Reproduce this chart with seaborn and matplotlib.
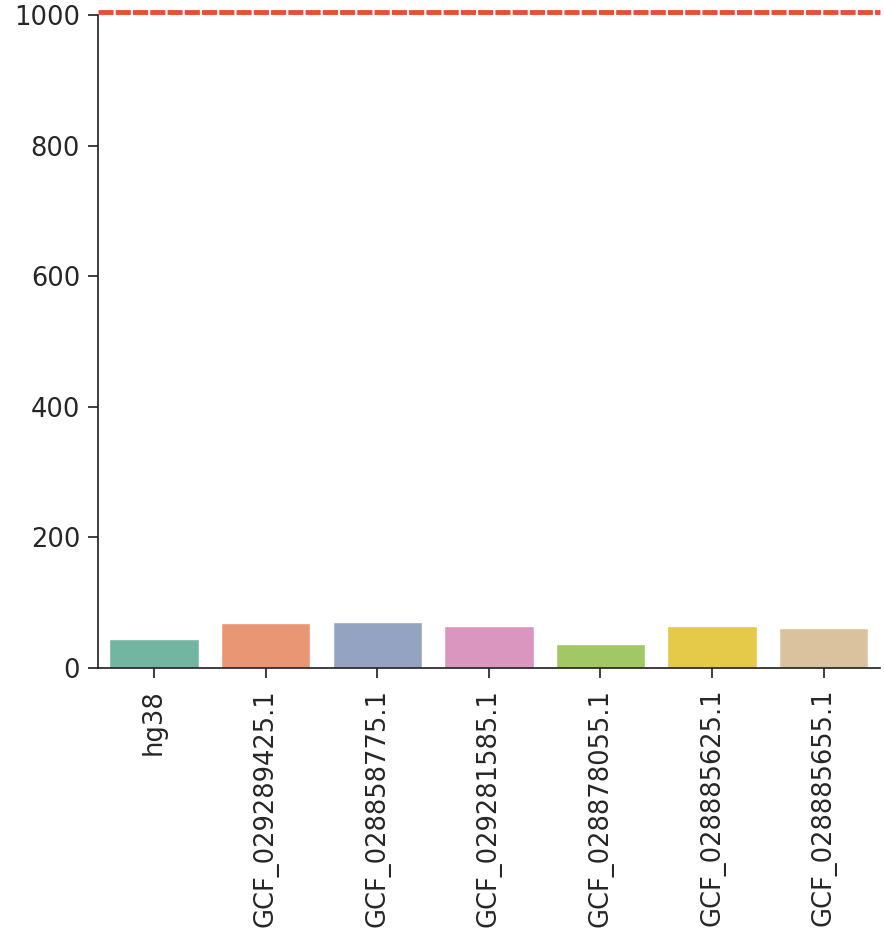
import matplotlib
matplotlib.use("Agg")
import matplotlib.pyplot as plt
import seaborn as sns
import pandas as pd

genomes = ["hg38", "GCF_029289425.1", "GCF_028858775.1", "GCF_029281585.1",
           "GCF_028878055.1", "GCF_028885625.1", "GCF_028885655.1"]
counts = [45, 69, 70, 65, 36.5, 65, 62]
threshold = 1004

sns.set_theme(style="ticks")
plt.rcParams["font.family"] = ["DejaVu Sans"]

df = pd.DataFrame({"genome": genomes, "count": counts})

fig = plt.figure(figsize=(8.84, 9.36), dpi=100)
ax = fig.add_axes([0.111, 0.2863, 0.884, 0.6977])
sns.barplot(data=df, x="genome", y="count", hue="genome", palette="Set2",
            legend=False, ax=ax)
ax.axhline(threshold, color="#e74c3c", lw=3.5, linestyle=(0, (3.1, 0.45)),
           clip_on=False, zorder=5)
ax.set_ylim(0, 1000)
ax.set_yticks([0, 200, 400, 600, 800, 1000])
ax.set_xlabel("")
ax.set_ylabel("")
ax.tick_params(axis="both", labelsize=18.5, length=7, width=1.25, pad=6)
ax.tick_params(axis="x", rotation=90, pad=8)
sns.despine(ax=ax)
fig.savefig("out.png", dpi=100)
